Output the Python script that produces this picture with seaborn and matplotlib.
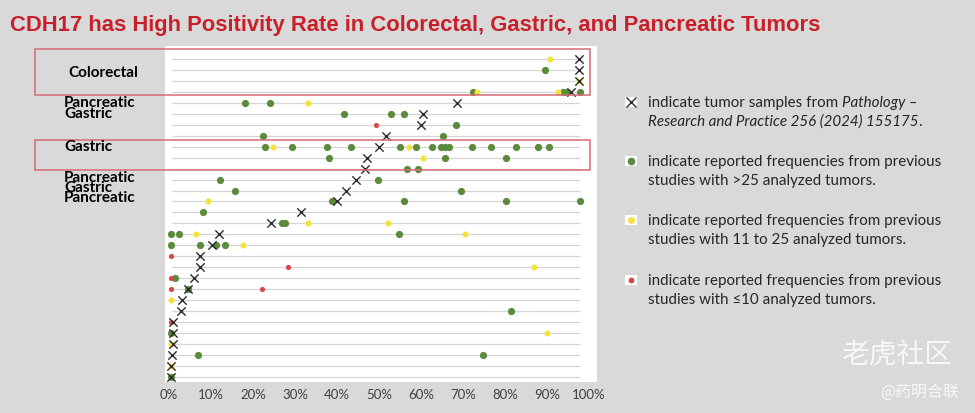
import numpy as np
import pandas as pd
import matplotlib
matplotlib.use("Agg")
import matplotlib.pyplot as plt
import matplotlib.patches as patches
import matplotlib.transforms as mtransforms
from matplotlib.lines import Line2D
import seaborn as sns

# ---- data (positivity %, row index from top) ----
cross_pct = [97.6, 97.6, 97.6, 95.7, 68.5, 60.4, 60.0, 51.7, 50.0, 47.2,
             46.7, 44.5, 42.1, 39.9, 31.4, 24.4, 12.0, 10.2, 7.4, 7.4,
             5.9, 4.6, 3.2, 2.8, 1.0, 1.0, 1.0, 0.6, 0.5, 0.5]
cross_row = list(range(30))

green_pct = [89.5,
             72.4, 93.8, 94.7, 97.8,
             18.1, 24.0,
             41.7, 52.9, 56.0,
             68.3,
             22.4, 65.3,
             22.9, 29.4, 37.7, 43.3, 55.0, 58.9, 62.7, 64.8, 65.7, 66.7, 72.1, 76.7, 82.7, 87.9, 90.4,
             38.2, 65.7, 80.2,
             56.7, 59.4,
             12.2, 49.8,
             15.6, 69.6,
             38.8, 56.0, 80.2, 97.8,
             8.0,
             26.8, 27.6,
             0.5, 2.5, 54.8,
             0.5, 7.4, 11.3, 13.3,
             1.4,
             4.5,
             81.4,
             0.5,
             6.8, 74.7,
             0.5]
green_row = [1,
             3, 3, 3, 3,
             4, 4,
             5, 5, 5,
             6,
             7, 7,
             8, 8, 8, 8, 8, 8, 8, 8, 8, 8, 8, 8, 8, 8, 8,
             9, 9, 9,
             10, 10,
             11, 11,
             12, 12,
             13, 13, 13, 13,
             14,
             15, 15,
             16, 16, 16,
             17, 17, 17, 17,
             20,
             21,
             23,
             25,
             27, 27,
             29]

yellow_pct = [90.7, 97.6, 73.3, 92.6, 33.0, 24.8, 57.2, 60.4, 9.4, 33.0,
              52.1, 6.4, 70.5, 17.7, 86.9, 0.5, 89.9, 0.5, 0.5]
yellow_row = [0, 2, 3, 3, 4, 8, 8, 9, 13, 15,
              15, 16, 16, 17, 19, 22, 25, 26, 28]

red_pct = [49.3, 0.5, 28.3, 0.5, 0.5, 22.2, 0.5]
red_row = [6, 18, 19, 20, 21, 21, 24]

tick_vals = [0, 10, 20, 30, 40, 50, 60, 70, 80, 90, 100]
tick_labels = [f"{v}%" for v in tick_vals]

row_labels = ["Colorectal", "Pancreatic", "Gastric", "Gastric",
              "Pancreatic", "Gastric", "Pancreatic"]
row_label_pos = [1.2, 3.9, 4.9, 7.9, 10.75, 11.67, 12.6]

frames = [
    pd.DataFrame({"pct": green_pct, "row": green_row, "group": "green"}),
    pd.DataFrame({"pct": yellow_pct, "row": yellow_row, "group": "yellow"}),
    pd.DataFrame({"pct": red_pct, "row": red_row, "group": "red"}),
    pd.DataFrame({"pct": cross_pct, "row": cross_row, "group": "cross"}),
]
df = pd.concat(frames, ignore_index=True)

GREEN = "#5a8a3c"
YELLOW = "#f3e23a"
RED = "#d9464a"
CROSS = "#2b2b2b"
BG = "#d9d9d9"

sns.set_theme(style="white")
plt.rcParams["font.family"] = ["Lato", "DejaVu Sans"]

fig = plt.figure(figsize=(9.75, 4.14), dpi=100)
fig.patch.set_facecolor(BG)
ax = fig.add_axes([165 / 975, 1 - 383 / 414, 432 / 975, 336 / 414])
ax.set_facecolor("white")

# horizontal guide lines, one per row
ax.hlines(cross_row, 0.7, 97.9, color="#d6d6d6", lw=0.9, zorder=0)

styles = {
    "green": dict(marker="o", s=27, color=GREEN, linewidth=0, zorder=3),
    "yellow": dict(marker="o", s=19, color=YELLOW, linewidth=0, zorder=4),
    "red": dict(marker="o", s=14, color=RED, linewidth=0, zorder=5),
    "cross": dict(marker="x", s=36, color=CROSS, linewidth=1.0, zorder=6),
}
for g, kw in styles.items():
    sns.scatterplot(data=df[df["group"] == g], x="pct", y="row", ax=ax,
                    legend=False, **kw)

ax.set_xlim(-0.95, 101.9)
ax.set_ylim(29.46, -1.18)
ax.set_xticks(tick_vals)
ax.set_xticklabels(tick_labels, fontsize=9.5, color="#404040")
ax.set_yticks([])
ax.set_xlabel("")
ax.set_ylabel("")
ax.tick_params(axis="x", length=0, pad=4)
for sp in ax.spines.values():
    sp.set_visible(False)

# row labels and highlight boxes
blend = mtransforms.blended_transform_factory(fig.transFigure, ax.transData)
for i, (lab, pos) in enumerate(zip(row_labels, row_label_pos)):
    x0 = 68 / 975 if i == 0 else 64 / 975
    fig.text(x0, pos, lab, transform=blend, fontsize=11, fontweight="bold",
             color="black", va="center", ha="left")

for y0, y1 in [(-0.91, 3.28), (7.36, 10.12)]:
    fig.add_artist(patches.Rectangle((35 / 975, y0), 555 / 975, y1 - y0,
                                     transform=blend, fill=False,
                                     edgecolor="#d66b73", lw=1.1))

# title
fig.text(10 / 975, 1 - 25 / 414,
         "CDH17 has High Positivity Rate in Colorectal, Gastric, and Pancreatic Tumors",
         fontsize=15.8, fontweight="bold", color="#c8202a",
         family=["Liberation Sans", "DejaVu Sans"], va="center", ha="left")

# legend (drawn by hand)
fig.canvas.draw()
renderer = fig.canvas.get_renderer()


def put_pieces(x_px, y_px, pieces, size=10.9):
    x = x_px
    for txt, style in pieces:
        t = fig.text(x / 975, 1 - y_px / 414, txt, fontsize=size, style=style,
                     color="#262626", va="center", ha="left")
        x += t.get_window_extent(renderer).width


leg_y = [103, 162, 221, 281]
leg_mark = [("x", CROSS, 6.5, 1.0), ("o", GREEN, 5.5, 0),
            ("o", YELLOW, 5.0, 0), ("o", RED, 4.2, 0)]
leg_text = [
    [[("indicate tumor samples from ", "normal"), ("Pathology \u2013", "italic")],
     [("Research and Practice 256 (2024) 155175", "italic"), (".", "normal")]],
    [[("indicate reported frequencies from previous", "normal")],
     [("studies with >25 analyzed tumors.", "normal")]],
    [[("indicate reported frequencies from previous", "normal")],
     [("studies with 11 to 25 analyzed tumors.", "normal")]],
    [[("indicate reported frequencies from previous", "normal")],
     [("studies with \u226410 analyzed tumors.", "normal")]],
]
for y, (mk, col, ms, mlw), lines in zip(leg_y, leg_mark, leg_text):
    fig.add_artist(patches.Rectangle(((631 - 6) / 975, 1 - (y + 5) / 414),
                                     12 / 975, 10 / 414,
                                     transform=fig.transFigure,
                                     facecolor="white", edgecolor="none"))
    fig.add_artist(Line2D([631 / 975], [1 - y / 414], marker=mk, markersize=ms,
                          color=col, markeredgewidth=mlw if mk == "x" else 0,
                          linestyle="none", transform=fig.transFigure))
    put_pieces(648, y, lines[0])
    put_pieces(648, y + 19, lines[1])

# watermark
fig.text(897 / 975, 1 - 355 / 414, "老虎社区", fontsize=20, color="#f7f7f7",
         family=["Noto Sans CJK SC", "DejaVu Sans"], ha="center", va="center")
fig.text(920 / 975, 1 - 392 / 414, "@药明合联", fontsize=11.5, color="#f7f7f7",
         family=["Noto Sans CJK SC", "DejaVu Sans"], ha="center", va="center")

fig.savefig("out.png", dpi=100, facecolor=BG)
